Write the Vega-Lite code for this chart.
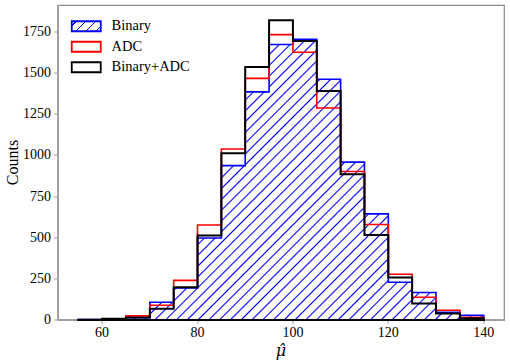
{
  "$schema": "https://vega.github.io/schema/vega-lite/v6.json",
  "width": 446,
  "height": 315,
  "autosize": "none",
  "padding": {"left": 58, "top": 5, "right": 6, "bottom": 44},
  "background": "white",
  "config": {
    "font": "Liberation Serif",
    "view": {"stroke": "#8c8c8c", "strokeWidth": 1.2},
    "axis": {
      "labelFont": "Liberation Serif",
      "labelFontSize": 14,
      "labelColor": "#000000",
      "titleFont": "Liberation Serif",
      "titleFontSize": 17,
      "titleFontWeight": "normal",
      "titleColor": "#000000",
      "domainColor": "#a0a0a0",
      "domainWidth": 2,
      "tickColor": "#a0a0a0",
      "tickSize": 4,
      "tickWidth": 1,
      "grid": false,
      "translate": 0,
      "zindex": 1
    },
    "legend": {
      "orient": "none",
      "legendX": 21,
      "legendY": 14,
      "padding": 0,
      "rowPadding": 2.5,
      "labelOffset": 18,
      "labelFont": "Liberation Serif",
      "labelFontSize": 14.5,
      "labelColor": "#000000",
      "symbolType": "M-2.9,-1H2.9V1H-2.9Z",
      "symbolSize": 100,
      "symbolStrokeWidth": 1.8
    }
  },
  "data": {
    "values": [
      {"series": "Binary", "bin_start": 55, "bin_end": 60, "count": 2},
      {"series": "Binary", "bin_start": 60, "bin_end": 65, "count": 5},
      {"series": "Binary", "bin_start": 65, "bin_end": 70, "count": 14},
      {"series": "Binary", "bin_start": 70, "bin_end": 75, "count": 108},
      {"series": "Binary", "bin_start": 75, "bin_end": 80, "count": 195},
      {"series": "Binary", "bin_start": 80, "bin_end": 85, "count": 498},
      {"series": "Binary", "bin_start": 85, "bin_end": 90, "count": 938},
      {"series": "Binary", "bin_start": 90, "bin_end": 95, "count": 1386},
      {"series": "Binary", "bin_start": 95, "bin_end": 100, "count": 1674},
      {"series": "Binary", "bin_start": 100, "bin_end": 105, "count": 1706},
      {"series": "Binary", "bin_start": 105, "bin_end": 110, "count": 1463},
      {"series": "Binary", "bin_start": 110, "bin_end": 115, "count": 959},
      {"series": "Binary", "bin_start": 115, "bin_end": 120, "count": 645},
      {"series": "Binary", "bin_start": 120, "bin_end": 125, "count": 229},
      {"series": "Binary", "bin_start": 125, "bin_end": 130, "count": 167},
      {"series": "Binary", "bin_start": 130, "bin_end": 135, "count": 47},
      {"series": "Binary", "bin_start": 135, "bin_end": 140, "count": 29},
      {"series": "ADC", "bin_start": 55, "bin_end": 60, "count": 1},
      {"series": "ADC", "bin_start": 60, "bin_end": 65, "count": 6},
      {"series": "ADC", "bin_start": 65, "bin_end": 70, "count": 25},
      {"series": "ADC", "bin_start": 70, "bin_end": 75, "count": 90},
      {"series": "ADC", "bin_start": 75, "bin_end": 80, "count": 241},
      {"series": "ADC", "bin_start": 80, "bin_end": 85, "count": 577},
      {"series": "ADC", "bin_start": 85, "bin_end": 90, "count": 1039},
      {"series": "ADC", "bin_start": 90, "bin_end": 95, "count": 1468},
      {"series": "ADC", "bin_start": 95, "bin_end": 100, "count": 1734},
      {"series": "ADC", "bin_start": 100, "bin_end": 105, "count": 1627},
      {"series": "ADC", "bin_start": 105, "bin_end": 110, "count": 1288},
      {"series": "ADC", "bin_start": 110, "bin_end": 115, "count": 902},
      {"series": "ADC", "bin_start": 115, "bin_end": 120, "count": 580},
      {"series": "ADC", "bin_start": 120, "bin_end": 125, "count": 278},
      {"series": "ADC", "bin_start": 125, "bin_end": 130, "count": 138},
      {"series": "ADC", "bin_start": 130, "bin_end": 135, "count": 59},
      {"series": "ADC", "bin_start": 135, "bin_end": 140, "count": 17},
      {"series": "Binary+ADC", "bin_start": 55, "bin_end": 60, "count": 2},
      {"series": "Binary+ADC", "bin_start": 60, "bin_end": 65, "count": 7},
      {"series": "Binary+ADC", "bin_start": 65, "bin_end": 70, "count": 15},
      {"series": "Binary+ADC", "bin_start": 70, "bin_end": 75, "count": 68},
      {"series": "Binary+ADC", "bin_start": 75, "bin_end": 80, "count": 199},
      {"series": "Binary+ADC", "bin_start": 80, "bin_end": 85, "count": 514},
      {"series": "Binary+ADC", "bin_start": 85, "bin_end": 90, "count": 1013},
      {"series": "Binary+ADC", "bin_start": 90, "bin_end": 95, "count": 1538},
      {"series": "Binary+ADC", "bin_start": 95, "bin_end": 100, "count": 1821},
      {"series": "Binary+ADC", "bin_start": 100, "bin_end": 105, "count": 1695},
      {"series": "Binary+ADC", "bin_start": 105, "bin_end": 110, "count": 1391},
      {"series": "Binary+ADC", "bin_start": 110, "bin_end": 115, "count": 886},
      {"series": "Binary+ADC", "bin_start": 115, "bin_end": 120, "count": 516},
      {"series": "Binary+ADC", "bin_start": 120, "bin_end": 125, "count": 258},
      {"series": "Binary+ADC", "bin_start": 125, "bin_end": 130, "count": 100},
      {"series": "Binary+ADC", "bin_start": 130, "bin_end": 135, "count": 39},
      {"series": "Binary+ADC", "bin_start": 135, "bin_end": 140, "count": 11}
    ]
  },
  "transform": [
    {"fold": ["bin_start", "bin_end"], "as": ["edge_side", "edge"]}
  ],
  "encoding": {
    "x": {
      "field": "edge",
      "type": "quantitative",
      "scale": {"domain": [50.75, 144.25], "nice": false, "zero": false},
      "axis": {"values": [60, 80, 100, 120, 140], "title": "μ̂", "titleFont": "DejaVu Serif", "titleFontSize": 16, "titleFontStyle": "italic", "labelPadding": 2, "titlePadding": 3, "format": "d"}
    },
    "y": {
      "field": "count",
      "type": "quantitative",
      "stack": null,
      "scale": {"domain": [0, 1914], "nice": false},
      "axis": {"values": [0, 250, 500, 750, 1000, 1250, 1500, 1750], "title": "Counts", "titleFontSize": 16, "format": "d", "labelPadding": 3, "titlePadding": 2}
    }
  },
  "layer": [
    {
      "transform": [{"filter": "datum.series === 'Binary'"}],
      "mark": {
        "type": "area",
        "stroke": "#0000ff",
        "strokeWidth": 1.6,
        "fillOpacity": 1,
        "fill": {"gradient": "linear", "x1": 0, "y1": 0, "x2": 1.15, "y2": 0.796, "stops": [
          {"offset": 0, "color": "#ffffff"}, {"offset": 0.00225, "color": "#0000ff"}, {"offset": 0.0045, "color": "#ffffff"},
          {"offset": 0.015625, "color": "#ffffff"}, {"offset": 0.017875, "color": "#0000ff"}, {"offset": 0.020125, "color": "#ffffff"},
          {"offset": 0.03125, "color": "#ffffff"}, {"offset": 0.0335, "color": "#0000ff"}, {"offset": 0.03575, "color": "#ffffff"},
          {"offset": 0.046875, "color": "#ffffff"}, {"offset": 0.049125, "color": "#0000ff"}, {"offset": 0.051375, "color": "#ffffff"},
          {"offset": 0.0625, "color": "#ffffff"}, {"offset": 0.06475, "color": "#0000ff"}, {"offset": 0.067, "color": "#ffffff"},
          {"offset": 0.078125, "color": "#ffffff"}, {"offset": 0.080375, "color": "#0000ff"}, {"offset": 0.082625, "color": "#ffffff"},
          {"offset": 0.09375, "color": "#ffffff"}, {"offset": 0.096, "color": "#0000ff"}, {"offset": 0.09825, "color": "#ffffff"},
          {"offset": 0.109375, "color": "#ffffff"}, {"offset": 0.111625, "color": "#0000ff"}, {"offset": 0.113875, "color": "#ffffff"},
          {"offset": 0.125, "color": "#ffffff"}, {"offset": 0.12725, "color": "#0000ff"}, {"offset": 0.1295, "color": "#ffffff"},
          {"offset": 0.140625, "color": "#ffffff"}, {"offset": 0.142875, "color": "#0000ff"}, {"offset": 0.145125, "color": "#ffffff"},
          {"offset": 0.15625, "color": "#ffffff"}, {"offset": 0.1585, "color": "#0000ff"}, {"offset": 0.16075, "color": "#ffffff"},
          {"offset": 0.171875, "color": "#ffffff"}, {"offset": 0.174125, "color": "#0000ff"}, {"offset": 0.176375, "color": "#ffffff"},
          {"offset": 0.1875, "color": "#ffffff"}, {"offset": 0.18975, "color": "#0000ff"}, {"offset": 0.192, "color": "#ffffff"},
          {"offset": 0.203125, "color": "#ffffff"}, {"offset": 0.205375, "color": "#0000ff"}, {"offset": 0.207625, "color": "#ffffff"},
          {"offset": 0.21875, "color": "#ffffff"}, {"offset": 0.221, "color": "#0000ff"}, {"offset": 0.22325, "color": "#ffffff"},
          {"offset": 0.234375, "color": "#ffffff"}, {"offset": 0.236625, "color": "#0000ff"}, {"offset": 0.238875, "color": "#ffffff"},
          {"offset": 0.25, "color": "#ffffff"}, {"offset": 0.25225, "color": "#0000ff"}, {"offset": 0.2545, "color": "#ffffff"},
          {"offset": 0.265625, "color": "#ffffff"}, {"offset": 0.267875, "color": "#0000ff"}, {"offset": 0.270125, "color": "#ffffff"},
          {"offset": 0.28125, "color": "#ffffff"}, {"offset": 0.2835, "color": "#0000ff"}, {"offset": 0.28575, "color": "#ffffff"},
          {"offset": 0.296875, "color": "#ffffff"}, {"offset": 0.299125, "color": "#0000ff"}, {"offset": 0.301375, "color": "#ffffff"},
          {"offset": 0.3125, "color": "#ffffff"}, {"offset": 0.31475, "color": "#0000ff"}, {"offset": 0.317, "color": "#ffffff"},
          {"offset": 0.328125, "color": "#ffffff"}, {"offset": 0.330375, "color": "#0000ff"}, {"offset": 0.332625, "color": "#ffffff"},
          {"offset": 0.34375, "color": "#ffffff"}, {"offset": 0.346, "color": "#0000ff"}, {"offset": 0.34825, "color": "#ffffff"},
          {"offset": 0.359375, "color": "#ffffff"}, {"offset": 0.361625, "color": "#0000ff"}, {"offset": 0.363875, "color": "#ffffff"},
          {"offset": 0.375, "color": "#ffffff"}, {"offset": 0.37725, "color": "#0000ff"}, {"offset": 0.3795, "color": "#ffffff"},
          {"offset": 0.390625, "color": "#ffffff"}, {"offset": 0.392875, "color": "#0000ff"}, {"offset": 0.395125, "color": "#ffffff"},
          {"offset": 0.40625, "color": "#ffffff"}, {"offset": 0.4085, "color": "#0000ff"}, {"offset": 0.41075, "color": "#ffffff"},
          {"offset": 0.421875, "color": "#ffffff"}, {"offset": 0.424125, "color": "#0000ff"}, {"offset": 0.426375, "color": "#ffffff"},
          {"offset": 0.4375, "color": "#ffffff"}, {"offset": 0.43975, "color": "#0000ff"}, {"offset": 0.442, "color": "#ffffff"},
          {"offset": 0.453125, "color": "#ffffff"}, {"offset": 0.455375, "color": "#0000ff"}, {"offset": 0.457625, "color": "#ffffff"},
          {"offset": 0.46875, "color": "#ffffff"}, {"offset": 0.471, "color": "#0000ff"}, {"offset": 0.47325, "color": "#ffffff"},
          {"offset": 0.484375, "color": "#ffffff"}, {"offset": 0.486625, "color": "#0000ff"}, {"offset": 0.488875, "color": "#ffffff"},
          {"offset": 0.5, "color": "#ffffff"}, {"offset": 0.50225, "color": "#0000ff"}, {"offset": 0.5045, "color": "#ffffff"},
          {"offset": 0.515625, "color": "#ffffff"}, {"offset": 0.517875, "color": "#0000ff"}, {"offset": 0.520125, "color": "#ffffff"},
          {"offset": 0.53125, "color": "#ffffff"}, {"offset": 0.5335, "color": "#0000ff"}, {"offset": 0.53575, "color": "#ffffff"},
          {"offset": 0.546875, "color": "#ffffff"}, {"offset": 0.549125, "color": "#0000ff"}, {"offset": 0.551375, "color": "#ffffff"},
          {"offset": 0.5625, "color": "#ffffff"}, {"offset": 0.56475, "color": "#0000ff"}, {"offset": 0.567, "color": "#ffffff"},
          {"offset": 0.578125, "color": "#ffffff"}, {"offset": 0.580375, "color": "#0000ff"}, {"offset": 0.582625, "color": "#ffffff"},
          {"offset": 0.59375, "color": "#ffffff"}, {"offset": 0.596, "color": "#0000ff"}, {"offset": 0.59825, "color": "#ffffff"},
          {"offset": 0.609375, "color": "#ffffff"}, {"offset": 0.611625, "color": "#0000ff"}, {"offset": 0.613875, "color": "#ffffff"},
          {"offset": 0.625, "color": "#ffffff"}, {"offset": 0.62725, "color": "#0000ff"}, {"offset": 0.6295, "color": "#ffffff"},
          {"offset": 0.640625, "color": "#ffffff"}, {"offset": 0.642875, "color": "#0000ff"}, {"offset": 0.645125, "color": "#ffffff"},
          {"offset": 0.65625, "color": "#ffffff"}, {"offset": 0.6585, "color": "#0000ff"}, {"offset": 0.66075, "color": "#ffffff"},
          {"offset": 0.671875, "color": "#ffffff"}, {"offset": 0.674125, "color": "#0000ff"}, {"offset": 0.676375, "color": "#ffffff"},
          {"offset": 0.6875, "color": "#ffffff"}, {"offset": 0.68975, "color": "#0000ff"}, {"offset": 0.692, "color": "#ffffff"},
          {"offset": 0.703125, "color": "#ffffff"}, {"offset": 0.705375, "color": "#0000ff"}, {"offset": 0.707625, "color": "#ffffff"},
          {"offset": 0.71875, "color": "#ffffff"}, {"offset": 0.721, "color": "#0000ff"}, {"offset": 0.72325, "color": "#ffffff"},
          {"offset": 0.734375, "color": "#ffffff"}, {"offset": 0.736625, "color": "#0000ff"}, {"offset": 0.738875, "color": "#ffffff"},
          {"offset": 0.75, "color": "#ffffff"}, {"offset": 0.75225, "color": "#0000ff"}, {"offset": 0.7545, "color": "#ffffff"},
          {"offset": 0.765625, "color": "#ffffff"}, {"offset": 0.767875, "color": "#0000ff"}, {"offset": 0.770125, "color": "#ffffff"},
          {"offset": 0.78125, "color": "#ffffff"}, {"offset": 0.7835, "color": "#0000ff"}, {"offset": 0.78575, "color": "#ffffff"},
          {"offset": 0.796875, "color": "#ffffff"}, {"offset": 0.799125, "color": "#0000ff"}, {"offset": 0.801375, "color": "#ffffff"},
          {"offset": 0.8125, "color": "#ffffff"}, {"offset": 0.81475, "color": "#0000ff"}, {"offset": 0.817, "color": "#ffffff"},
          {"offset": 0.828125, "color": "#ffffff"}, {"offset": 0.830375, "color": "#0000ff"}, {"offset": 0.832625, "color": "#ffffff"},
          {"offset": 0.84375, "color": "#ffffff"}, {"offset": 0.846, "color": "#0000ff"}, {"offset": 0.84825, "color": "#ffffff"},
          {"offset": 0.859375, "color": "#ffffff"}, {"offset": 0.861625, "color": "#0000ff"}, {"offset": 0.863875, "color": "#ffffff"},
          {"offset": 0.875, "color": "#ffffff"}, {"offset": 0.87725, "color": "#0000ff"}, {"offset": 0.8795, "color": "#ffffff"},
          {"offset": 0.890625, "color": "#ffffff"}, {"offset": 0.892875, "color": "#0000ff"}, {"offset": 0.895125, "color": "#ffffff"},
          {"offset": 0.90625, "color": "#ffffff"}, {"offset": 0.9085, "color": "#0000ff"}, {"offset": 0.91075, "color": "#ffffff"},
          {"offset": 0.921875, "color": "#ffffff"}, {"offset": 0.924125, "color": "#0000ff"}, {"offset": 0.926375, "color": "#ffffff"},
          {"offset": 0.9375, "color": "#ffffff"}, {"offset": 0.93975, "color": "#0000ff"}, {"offset": 0.942, "color": "#ffffff"},
          {"offset": 0.953125, "color": "#ffffff"}, {"offset": 0.955375, "color": "#0000ff"}, {"offset": 0.957625, "color": "#ffffff"},
          {"offset": 0.96875, "color": "#ffffff"}, {"offset": 0.971, "color": "#0000ff"}, {"offset": 0.97325, "color": "#ffffff"},
          {"offset": 0.984375, "color": "#ffffff"}, {"offset": 0.986625, "color": "#0000ff"}, {"offset": 0.988875, "color": "#ffffff"},
          {"offset": 1, "color": "#ffffff"}
        ]}
      }
    },
    {
      "transform": [{"filter": "datum.series === 'ADC'"}],
      "mark": {"type": "area", "strokeWidth": 1.6},
      "encoding": {
        "stroke": {
          "field": "series",
          "type": "nominal",
          "scale": {"domain": ["Binary", "ADC", "Binary+ADC"], "range": ["#0000ff", "#ff0000", "#000000"]},
          "legend": {"title": null}
        },
        "fill": {
          "field": "series",
          "type": "nominal",
          "scale": {"domain": ["Binary", "ADC", "Binary+ADC"], "range": [{"expr": "{gradient: 'linear', x1: 0, y1: 0, x2: 1.2, y2: 0.414, stops: [{offset: 0, color: '#ffffff'}, {offset: 0.1, color: '#ffffff'}, {offset: 0.1, color: '#0000ff'}, {offset: 0.135, color: '#0000ff'}, {offset: 0.135, color: '#ffffff'}, {offset: 0.35, color: '#ffffff'}, {offset: 0.35, color: '#0000ff'}, {offset: 0.385, color: '#0000ff'}, {offset: 0.385, color: '#ffffff'}, {offset: 0.6, color: '#ffffff'}, {offset: 0.6, color: '#0000ff'}, {offset: 0.635, color: '#0000ff'}, {offset: 0.635, color: '#ffffff'}, {offset: 0.85, color: '#ffffff'}, {offset: 0.85, color: '#0000ff'}, {offset: 0.885, color: '#0000ff'}, {offset: 0.885, color: '#ffffff'}, {offset: 1, color: '#ffffff'}]}"}, "transparent", "transparent"]},
          "legend": {"title": null}
        }
      }
    },
    {
      "transform": [{"filter": "datum.series === 'Binary+ADC'"}],
      "mark": {"type": "area", "strokeWidth": 2},
      "encoding": {
        "stroke": {
          "field": "series",
          "type": "nominal",
          "scale": {"domain": ["Binary", "ADC", "Binary+ADC"], "range": ["#0000ff", "#ff0000", "#000000"]},
          "legend": {"title": null}
        },
        "fill": {
          "field": "series",
          "type": "nominal",
          "scale": {"domain": ["Binary", "ADC", "Binary+ADC"], "range": [{"expr": "{gradient: 'linear', x1: 0, y1: 0, x2: 1.2, y2: 0.414, stops: [{offset: 0, color: '#ffffff'}, {offset: 0.1, color: '#ffffff'}, {offset: 0.1, color: '#0000ff'}, {offset: 0.135, color: '#0000ff'}, {offset: 0.135, color: '#ffffff'}, {offset: 0.35, color: '#ffffff'}, {offset: 0.35, color: '#0000ff'}, {offset: 0.385, color: '#0000ff'}, {offset: 0.385, color: '#ffffff'}, {offset: 0.6, color: '#ffffff'}, {offset: 0.6, color: '#0000ff'}, {offset: 0.635, color: '#0000ff'}, {offset: 0.635, color: '#ffffff'}, {offset: 0.85, color: '#ffffff'}, {offset: 0.85, color: '#0000ff'}, {offset: 0.885, color: '#0000ff'}, {offset: 0.885, color: '#ffffff'}, {offset: 1, color: '#ffffff'}]}"}, "transparent", "transparent"]},
          "legend": {"title": null}
        }
      }
    }
  ]
}
